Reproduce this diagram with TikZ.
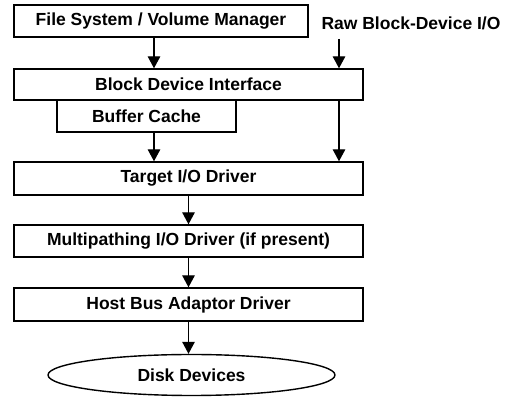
\documentclass[tikz,border=0pt]{standalone}
\usepackage{fontspec}
\setmainfont{Liberation Sans}
\usetikzlibrary{arrows.meta,shapes.geometric}
\begin{document}
\begin{tikzpicture}[x=1pt, y=-1pt, font=\fontsize{17.5}{20}\selectfont\bfseries,
  layer/.style={draw, line width=1.4pt, inner sep=0pt, minimum height=32pt},
  arr/.style={line width=1.4pt, -{Triangle[width=12.5pt,length=12pt]}}]
  \useasboundingbox (0,0) rectangle (507,403);
  \node[layer, minimum width=294pt] (fs) at (161, 21) {File System / Volume Manager};
  \node (raw) at (411, 23) {Raw Block-Device I/O};
  \node[layer, minimum width=349pt, minimum height=31pt] (bdi) at (188.5, 84.5) {Block Device Interface};
  \node[layer, minimum width=179pt] (bc) at (146.5, 116) {Buffer Cache};
  \node[layer, minimum width=349pt, minimum height=33pt] (tgt) at (188.5, 178.5) {Target I/O Driver};
  \node[layer, minimum width=349pt] (mp) at (188.5, 241) {Multipathing I/O Driver (if present)};
  \node[layer, minimum width=349pt, minimum height=33pt] (hba) at (188.5, 304.5) {Host Bus Adaptor Driver};
  \node[draw, ellipse, line width=1.4pt, minimum width=287pt, minimum height=41pt] (disk) at (191.5, 375) {Disk Devices};
  \coordinate (r) at (339, 39);
  \draw[arr] ([xshift=-7pt]fs.south) -- ([xshift=-7pt]fs.south |- bdi.north);
  \draw[arr] (r) -- (r |- bdi.north);
  \draw[arr] ([xshift=7.5pt]bc.south) -- ([xshift=7.5pt]bc.south |- tgt.north);
  \draw[arr] (r |- bdi.south) -- (r |- tgt.north);
  \draw[arr] (tgt) ++(0,16.5) -- (mp.north);
  \draw[arr] (mp.south) -- (hba.north);
  \draw[arr] (hba.south) -- (hba.south |- disk.north);
\end{tikzpicture}
\end{document}
